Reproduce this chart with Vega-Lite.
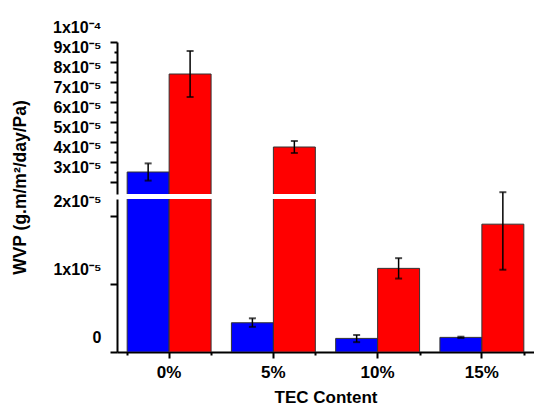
{
  "$schema": "https://vega.github.io/schema/vega-lite/v6.json",
  "padding": {"left": 11, "top": 19, "right": 0, "bottom": 0},
  "background": "white",
  "bounds": "flush",
  "config": {
    "view": {"stroke": null},
    "font": "Liberation Sans",
    "axis": {"grid": false, "domainColor": "black", "domainWidth": 2, "tickColor": "black", "tickWidth": 2, "labelColor": "black", "titleColor": "black", "labelFontWeight": "bold", "titleFontWeight": "bold", "labelOverlap": false, "labelFlush": false, "labelBound": false},
    "axisY": {"labelOverlap": false},
    "axisQuantitative": {"labelOverlap": false}
  },
  "datasets": {
    "wvp": [
      {"tec": "0%", "series": "Series 1", "wvp": 3.5e-5, "lo": 3.07e-5, "hi": 3.93e-5},
      {"tec": "0%", "series": "Series 2", "wvp": 8.4e-5, "lo": 7.25e-5, "hi": 9.55e-5},
      {"tec": "5%", "series": "Series 1", "wvp": 0.43e-5, "lo": 0.37e-5, "hi": 0.495e-5},
      {"tec": "5%", "series": "Series 2", "wvp": 4.75e-5, "lo": 4.45e-5, "hi": 5.05e-5},
      {"tec": "10%", "series": "Series 1", "wvp": 0.2e-5, "lo": 0.145e-5, "hi": 0.25e-5},
      {"tec": "10%", "series": "Series 2", "wvp": 1.23e-5, "lo": 1.08e-5, "hi": 1.38e-5},
      {"tec": "15%", "series": "Series 1", "wvp": 0.215e-5, "lo": 0.205e-5, "hi": 0.225e-5},
      {"tec": "15%", "series": "Series 2", "wvp": 1.88e-5, "lo": 1.21e-5, "hi": 2.35e-5}
    ]
  },
  "spacing": 5,
  "vconcat": [
    {
      "width": 417,
      "height": 152,
      "data": {"name": "wvp"},
      "encoding": {
        "x": {"field": "tec", "type": "nominal", "sort": ["0%", "5%", "10%", "15%"], "scale": {"paddingInner": 0.195, "paddingOuter": 0.0975}, "axis": null},
        "xOffset": {"field": "series", "type": "nominal", "sort": ["Series 1", "Series 2"], "scale": {"paddingInner": 0, "paddingOuter": 0}},
        "y": {
          "field": "wvp", "type": "quantitative",
          "scale": {"domain": [2.4e-5, 1e-4], "nice": false, "zero": false},
          "axis": {
            "values": [3e-5, 3.5e-5, 4e-5, 4.5e-5, 5e-5, 5.5e-5, 6e-5, 6.5e-5, 7e-5, 7.5e-5, 8e-5, 8.5e-5, 9e-5, 9.5e-5, 1e-4],
            "labelExpr": "abs(datum.value*1e5 - round(datum.value*1e5)) > 0.1 ? '' : (datum.value > 9.9e-5 ? '1x10⁻⁴' : round(datum.value*1e5) + 'x10⁻⁵')",
            "tickSize": {"condition": {"test": "abs(datum.value*1e5 - round(datum.value*1e5)) > 0.1", "value": 3}, "value": 7},
            "labelOverlap": false,
            "labelSeparation": 0,
            "labelOffset": -15,
            "labelFontSize": 16,
            "labelPadding": 9,
            "title": "WVP (g.m/m²/day/Pa)",
            "titleFontSize": 17.5,
            "titleAngle": 270,
            "titleX": -97,
            "titleY": 145,
            "titleAlign": "center",
            "titleBaseline": "middle"
          }
        }
      },
      "layer": [
        {
          "mark": {"type": "bar", "clip": true, "stroke": "#333333", "strokeWidth": 1},
          "encoding": {
            "color": {"field": "series", "type": "nominal", "scale": {"domain": ["Series 1", "Series 2"], "range": ["#0000FF", "#FF0000"]}, "legend": null}
          }
        },
        {
          "transform": [{"filter": "datum.wvp > 2.4e-5"}],
          "mark": {"type": "rule", "color": "black", "strokeWidth": 1.5},
          "encoding": {"y": {"field": "lo", "type": "quantitative"}, "y2": {"field": "hi"}}
        },
        {
          "transform": [{"filter": "datum.wvp > 2.4e-5"}],
          "mark": {"type": "tick", "orient": "horizontal", "size": 7, "thickness": 2, "color": "black"},
          "encoding": {"y": {"field": "lo", "type": "quantitative"}}
        },
        {
          "transform": [{"filter": "datum.wvp > 2.4e-5"}],
          "mark": {"type": "tick", "orient": "horizontal", "size": 7, "thickness": 2, "color": "black"},
          "encoding": {"y": {"field": "hi", "type": "quantitative"}}
        }
      ]
    },
    {
      "width": 417,
      "height": 153,
      "data": {"name": "wvp"},
      "layer": [
        {
          "mark": {"type": "bar", "clip": true, "stroke": "#333333", "strokeWidth": 1},
          "encoding": {
            "x": {"field": "tec", "type": "nominal", "sort": ["0%", "5%", "10%", "15%"], "scale": {"paddingInner": 0.195, "paddingOuter": 0.0975},
              "axis": {"orient": "bottom", "labelAngle": 0, "labelFontSize": 17, "labelPadding": 6, "tickSize": 6, "title": "TEC Content", "titleFontSize": 17, "titlePadding": 9}},
            "xOffset": {"field": "series", "type": "nominal", "sort": ["Series 1", "Series 2"], "scale": {"paddingInner": 0, "paddingOuter": 0}},
            "y": {
              "field": "wvp", "type": "quantitative",
              "scale": {"domain": [0, 2.25e-5], "nice": false},
              "axis": {
                "values": [0, 0.5e-5, 1e-5, 1.5e-5, 2e-5],
                "labelExpr": "abs(datum.value*1e5 - round(datum.value*1e5)) > 0.1 ? '' : (datum.value < 1e-7 ? '0' : round(datum.value*1e5) + 'x10⁻⁵')",
                "tickSize": {"condition": {"test": "abs(datum.value*1e5 - round(datum.value*1e5)) > 0.1", "value": 3}, "value": 7},
                "labelOverlap": false,
                "labelOffset": -15,
                "labelFontSize": 16,
                "labelPadding": 9,
                "title": null
              }
            },
            "color": {"field": "series", "type": "nominal", "scale": {"domain": ["Series 1", "Series 2"], "range": ["#0000FF", "#FF0000"]}, "legend": null}
          }
        },
        {
          "transform": [{"filter": "datum.wvp < 2.25e-5"}],
          "encoding": {
            "x": {"field": "tec", "type": "nominal", "sort": ["0%", "5%", "10%", "15%"],
              "axis": {"orient": "bottom", "tickBand": "extent", "labels": false, "domain": false, "tickSize": 3, "title": null}},
            "xOffset": {"field": "series", "type": "nominal", "sort": ["Series 1", "Series 2"]}
          },
          "layer": [
            {"mark": {"type": "rule", "color": "black", "strokeWidth": 1.5},
             "encoding": {"y": {"field": "lo", "type": "quantitative"}, "y2": {"field": "hi"}}},
            {"mark": {"type": "tick", "orient": "horizontal", "size": 7, "thickness": 2, "color": "black"},
             "encoding": {"y": {"field": "lo", "type": "quantitative"}}},
            {"mark": {"type": "tick", "orient": "horizontal", "size": 7, "thickness": 2, "color": "black"},
             "encoding": {"y": {"field": "hi", "type": "quantitative"}}}
          ]
        }
      ],
      "resolve": {"axis": {"x": "independent"}}
    }
  ]
}
